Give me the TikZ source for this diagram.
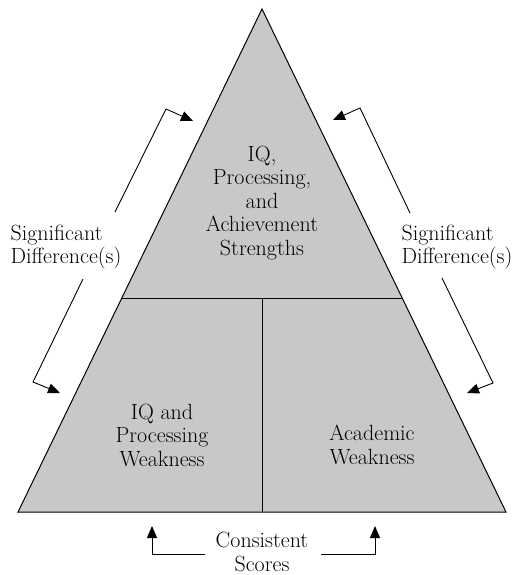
\documentclass[tikz,border=0pt]{standalone}
\usepackage{fontspec}
\usetikzlibrary{positioning,arrows.meta}
\definecolor{pyrgray}{RGB}{200,200,202}
\begin{document}
\begin{tikzpicture}[x=1pt, y=-1pt,
  every node/.style = {font=\fontsize{22}{23.5}\selectfont, align=center, inner sep=0pt},
  pointer/.style = {draw, line width=0.9pt, -{Triangle[length=12pt,width=10pt]}}
]
\useasboundingbox (0,0) rectangle (514,575);
% pyramid
\coordinate (apex) at (262,9);
\coordinate (bl) at (18,512);
\coordinate (br) at (506,512);
\coordinate (ml) at (121.8,298);
\coordinate (mr) at (402.2,298);
\coordinate (mt) at (262,298);
\coordinate (mb) at (262,512);
\filldraw[fill=pyrgray, line width=1pt] (apex) -- (bl) -- (br) -- cycle;
\draw[line width=1pt] (ml) -- (mr) (mt) -- (mb);

% labels
\node (strong) at (262,203) {IQ,\\Processing,\\and\\Achievement\\Strengths};
\node (ipweak) at (162,435) {IQ and\\Processing\\Weakness};
\node (acweak) at (372,445) {Academic\\Weakness};
\node[align=left] (sigl) at (66,247) {Significant\\Difference(s)};
\node[align=left] (sigr) at (457,247) {Significant\\Difference(s)};
\node (cons) at (262,552) {Consistent\\Scores};

% arrow ends
\coordinate (lu0) at (115,212);
\coordinate (lu1) at (166,109);
\coordinate (lu2) at (193,121);
\coordinate (ld0) at (83,279);
\coordinate (ld1) at (33,382);
\coordinate (ld2) at (60,393);
\coordinate (ru0) at (410,213);
\coordinate (ru1) at (360,108);
\coordinate (ru2) at (333,120);
\coordinate (rd0) at (442,278);
\coordinate (rd1) at (493,383);
\coordinate (rd2) at (467,393);
\coordinate (bl0) at (205,554);
\coordinate (bl1) at (152,554);
\coordinate (bl2) at (152,526);
\coordinate (br0) at (321,554);
\coordinate (br1) at (375,554);
\coordinate (br2) at (375,526);

\draw[pointer] (lu0) -- (lu1) -- (lu2);
\draw[pointer] (ld0) -- (ld1) -- (ld2);
\draw[pointer] (ru0) -- (ru1) -- (ru2);
\draw[pointer] (rd0) -- (rd1) -- (rd2);
\draw[pointer] (bl0) -- (bl1) -- (bl2);
\draw[pointer] (br0) -- (br1) -- (br2);
\end{tikzpicture}
\end{document}
